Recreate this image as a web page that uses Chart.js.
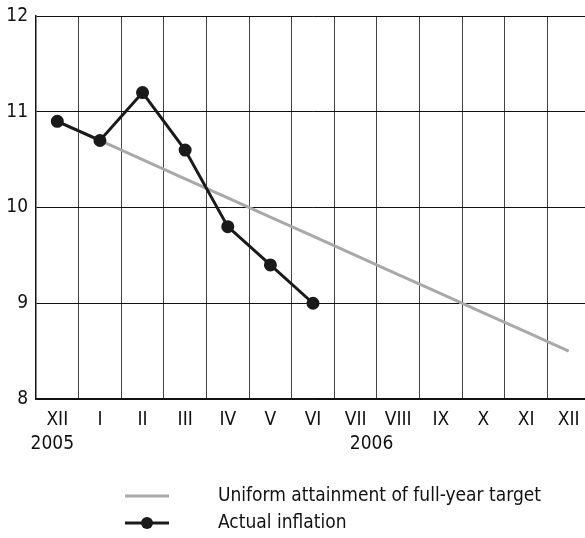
<!DOCTYPE html>
<html><head><meta charset="utf-8">
<script src="https://cdn.jsdelivr.net/npm/chart.js@4/dist/chart.umd.min.js"></script>
<style>
html,body{margin:0;padding:0;background:#fff;overflow:hidden;}
#wrap{width:598px;height:538px;position:relative;}
</style></head>
<body><div id="wrap"><canvas id="c"></canvas></div>
<script>
const months = ["XII","I","II","III","IV","V","VI","VII","VIII","IX","X","XI","XII"];
const yearLabels = [{index:0, text:"2005", dx:-5}, {index:7, text:"2006", dx:16}];
const targetPath = [10.9,10.7,10.5,10.3,10.1,9.9,9.7,9.5,9.3,9.1,8.9,8.7,8.5];
const actualInflation = [10.9,10.7,11.2,10.6,9.8,9.4,9.0];
const yTicks = [8,9,10,11,12];
const seriesNames = ["Uniform attainment of full-year target","Actual inflation"];

const FONT = '"Liberation Sans Narrow","DejaVu Sans Condensed","Arial Narrow",sans-serif';
Chart.defaults.font.family = FONT;
Chart.defaults.color = '#111';

const extras = {
  id:'extras',
  afterDraw(chart){
    const ctx = chart.ctx, xs = chart.scales.x;
    ctx.save();
    ctx.font = '19px ' + FONT;
    ctx.fillStyle = '#111';
    ctx.textAlign = 'center';
    ctx.textBaseline = 'middle';
    yearLabels.forEach(y => {
      ctx.fillText(y.text, xs.getPixelForValue(y.index) + y.dx, 444);
    });
    const ds = chart.data.datasets;
    const items = [{d:ds[0], y:496}, {d:ds[1], y:523}];
    ctx.textAlign = 'left';
    items.forEach(it => {
      ctx.strokeStyle = it.d.borderColor;
      ctx.lineWidth = it.d.borderWidth;
      ctx.beginPath(); ctx.moveTo(125, it.y); ctx.lineTo(169, it.y); ctx.stroke();
      if (it.d.pointRadius > 0) {
        ctx.fillStyle = it.d.pointBackgroundColor;
        ctx.beginPath(); ctx.arc(147, it.y, 6, 0, Math.PI*2); ctx.fill();
      }
      ctx.fillStyle = '#111';
      ctx.fillText(it.d.label, 218, it.y);
    });
    ctx.restore();
  }
};

new Chart(document.getElementById('c'), {
  type:'line',
  data:{
    labels: months,
    datasets:[
      {label: seriesNames[0], data: targetPath, borderColor:'#a9a9a9', borderWidth:3, pointRadius:0, order:2, tension:0},
      {label: seriesNames[1], data: actualInflation, borderColor:'#1a1a1a', backgroundColor:'#1a1a1a', pointBackgroundColor:'#1a1a1a', pointBorderColor:'#1a1a1a', borderWidth:3, pointRadius:5, order:1, tension:0}
    ]
  },
  options:{
    responsive:true, maintainAspectRatio:false, animation:false,
    layout:{padding:{top:16, right:0, left:0, bottom:0}},
    plugins:{legend:{display:false}, tooltip:{enabled:false}},
    scales:{
      x:{
        offset:true,
        grid:{offset:true, color:'#444', lineWidth:1, drawTicks:false},
        border:{color:'#111', width:1.5},
        ticks:{font:{size:19}, color:'#111', padding:10, maxRotation:0, autoSkip:false},
        afterFit(s){ s.height = 139; s.paddingLeft = 0; s.paddingRight = 0; }
      },
      y:{
        min:8, max:12,
        afterBuildTicks(s){ s.ticks = yTicks.map(v=>({value:v})); },
        grid:{color:'#111', lineWidth:1, drawTicks:false},
        border:{color:'#111', width:1.5},
        ticks:{font:{size:19}, color:'#111', padding:8},
        afterFit(s){ s.width = 36; s.paddingTop = 0; s.paddingBottom = 0; }
      }
    }
  },
  plugins:[extras]
});
</script></body></html>
